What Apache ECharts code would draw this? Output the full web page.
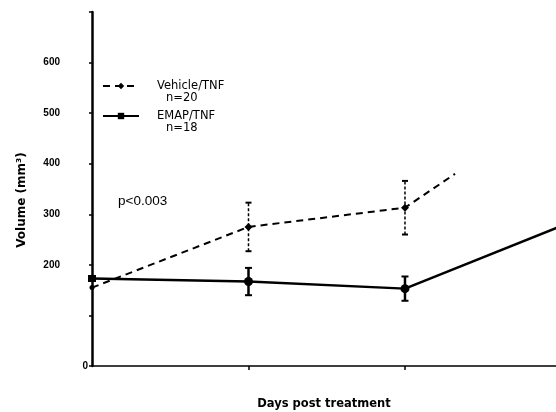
<!DOCTYPE html>
<html>
<head>
<meta charset="utf-8">
<script src="https://cdn.jsdelivr.net/npm/echarts@6/dist/echarts.min.js"></script>
<style>html,body{margin:0;padding:0;background:#fff;}#c{width:556px;height:412px;}</style>
</head>
<body>
<div id="c"></div>
<script>
// ---- data ----
const seriesNames = ['Vehicle/TNF', 'EMAP/TNF'];
const seriesN = ['n=20', 'n=18'];
const vehicleDays = [0, 1, 2, 2.32];
const vehicleMean = [155, 275, 313, 380];
const vehicleErrDays = [1, 2];
const vehicleErr = [48, 53];
const emapDays = [0, 1, 2, 3];
const emapMean = [173, 167, 153, 277];
const emapErrDays = [1, 2];
const emapErr = [27, 24];
const yTickLabels = [200, 300, 400, 500, 600];
const pText = 'p<0.003';

const FONT = '"Liberation Sans", Arial, Helvetica, sans-serif';
const WIDE = '"DejaVu Sans", "Liberation Sans", sans-serif';

function pairs(xs, ys) { return xs.map((x, i) => [x, ys[i]]); }
function errData(xs, means, xsAll, errs) {
  return xs.map((x, i) => {
    const m = means[xsAll.indexOf(x)];
    return [x, m - errs[i], m + errs[i]];
  });
}

function makeErr(dashed, width, cap) {
  return function (params, api) {
    const x = api.value(0);
    const lo = api.coord([x, api.value(1)]);
    const hi = api.coord([x, api.value(2)]);
    const st = { stroke: '#000', lineWidth: width, lineDash: dashed ? [3, 2] : null };
    const capSt = { stroke: '#000', lineWidth: 2 };
    return {
      type: 'group',
      children: [
        { type: 'line', shape: { x1: lo[0], y1: lo[1], x2: hi[0], y2: hi[1] }, style: st },
        { type: 'line', shape: { x1: lo[0] - cap, y1: lo[1], x2: lo[0] + cap, y2: lo[1] }, style: capSt },
        { type: 'line', shape: { x1: hi[0] - cap, y1: hi[1], x2: hi[0] + cap, y2: hi[1] }, style: capSt }
      ]
    };
  };
}

const vehData = pairs(vehicleDays, vehicleMean).map((p, i) => {
  if (i === 0) return { value: p, symbol: 'circle', symbolSize: 5 };
  if (i === vehicleDays.length - 1) return { value: p, symbol: 'none' };
  return { value: p };
});
const emapData = pairs(emapDays, emapMean).map((p, i) => {
  if (i === 0) return { value: p };
  if (i === emapDays.length - 1) return { value: p, symbol: 'none' };
  return { value: p, symbol: 'circle', symbolSize: 9 };
});

const chart = echarts.init(document.getElementById('c'), null, { renderer: 'canvas', width: 556, height: 412 });
chart.setOption({
  animation: false,
  backgroundColor: '#fff',
  textStyle: { fontFamily: FONT, color: '#000' },
  title: {
    text: pText, left: 118, top: 194, padding: 0,
    textStyle: { fontFamily: FONT, fontSize: 13.5, fontWeight: 'normal', color: '#000' }
  },
  legend: {
    orient: 'vertical', left: 102, top: 80, padding: 0, itemGap: 6,
    itemWidth: 36, itemHeight: 8,
    data: seriesNames,
    formatter: function (name) {
      const i = seriesNames.indexOf(name);
      return '{a|' + name + '}\n{b|' + seriesN[i] + '}';
    },
    textStyle: {
      padding: [12, 0, 0, 13],
      rich: {
        a: { fontSize: 11.5, lineHeight: 12, fontFamily: WIDE, color: '#000' },
        b: { fontSize: 11.5, lineHeight: 12, fontFamily: WIDE, color: '#000', padding: [0, 0, 0, 9] }
      }
    }
  },
  grid: { left: 92, width: 464, top: 12, height: 354, containLabel: false, outerBoundsMode: 'none' },
  xAxis: {
    type: 'value', min: 0, max: 2.965, interval: 1,
    name: 'Days post treatment', nameLocation: 'middle', nameGap: 32,
    nameTextStyle: { fontFamily: WIDE, fontSize: 11.5, fontWeight: 'bold', color: '#000' },
    axisLine: { show: true, lineStyle: { color: '#000', width: 1.5 } },
    axisTick: { show: true, customValues: [1, 2], length: 4, lineStyle: { color: '#000', width: 1.5 } },
    axisLabel: { show: false },
    splitLine: { show: false }
  },
  yAxis: [{
    type: 'value', min: 0, max: 700, interval: 100,
    name: 'Volume (mm³)', nameLocation: 'middle', nameGap: 64, nameRotate: 90,
    nameTextStyle: { fontFamily: WIDE, fontSize: 12, fontWeight: 'bold', color: '#000', padding: [0, 22, 0, 0] },
    axisLine: { show: true, lineStyle: { color: '#000', width: 2.5 } },
    axisTick: { show: true, length: 3, lineStyle: { color: '#000', width: 1.5 } },
    axisLabel: {
      margin: 32, fontFamily: FONT, fontSize: 10, fontWeight: 'bold', color: '#000',
      formatter: function (v) { return yTickLabels.indexOf(v) >= 0 ? String(v) : ''; }
    },
    splitLine: { show: false }
  }, {
    type: 'value', min: 0, max: 700, interval: 100, position: 'left',
    axisLine: { show: false }, axisTick: { show: false }, splitLine: { show: false },
    axisLabel: {
      margin: 4, fontFamily: FONT, fontSize: 10, fontWeight: 'bold', color: '#000',
      formatter: function (v) { return v === 0 ? '0' : ''; }
    }
  }],
  series: [
    {
      name: seriesNames[0], type: 'line', data: vehData,
      symbol: 'diamond', symbolSize: 8, showAllSymbol: true,
      itemStyle: { color: '#000' },
      lineStyle: { color: '#000', width: 2, type: [7, 5] },
      z: 3
    },
    {
      name: seriesNames[1], type: 'line', data: emapData,
      symbol: 'rect', symbolSize: [8, 7], showAllSymbol: true,
      itemStyle: { color: '#000' },
      lineStyle: { color: '#000', width: 2.5 },
      z: 3
    },
    {
      type: 'custom', name: 'vehErr', renderItem: makeErr(true, 1.5, 3),
      data: errData(vehicleErrDays, vehicleMean, vehicleDays, vehicleErr),
      encode: { x: 0, y: [1, 2] }, z: 2
    },
    {
      type: 'custom', name: 'emapErr', renderItem: makeErr(false, 2.5, 3.5),
      data: errData(emapErrDays, emapMean, emapDays, emapErr),
      encode: { x: 0, y: [1, 2] }, z: 2
    }
  ]
});
</script>
</body>
</html>
